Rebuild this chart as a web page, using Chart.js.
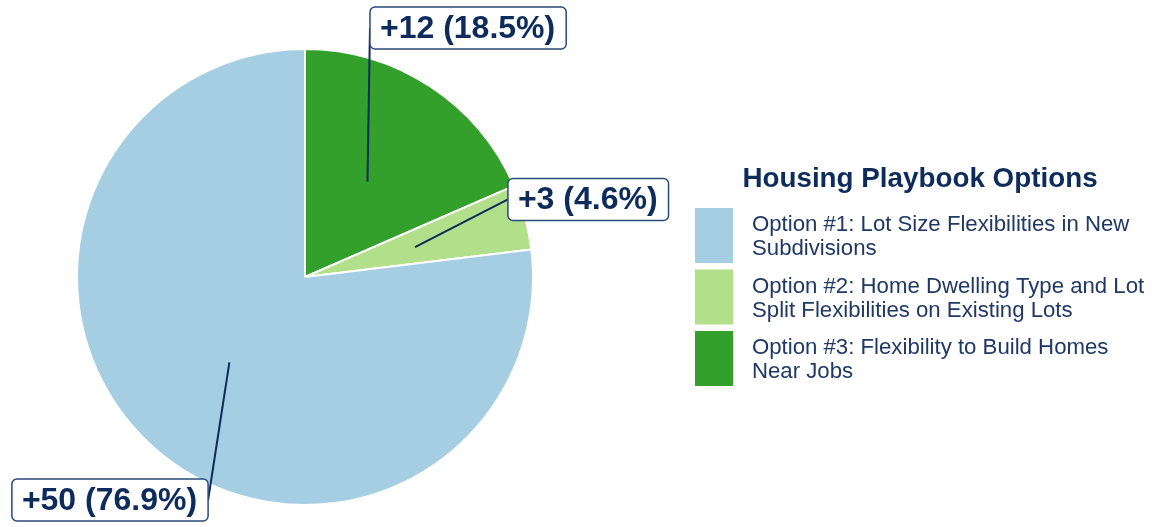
<!DOCTYPE html>
<html>
<head>
<meta charset="utf-8">
<script src="https://cdn.jsdelivr.net/npm/chart.js@4.4.0/dist/chart.umd.min.js"></script>
<style>
  html, body { margin: 0; padding: 0; background: #fff; }
  #wrap { width: 1162px; height: 527px; }
</style>
</head>
<body>
<div id="wrap"><canvas id="pie" width="1162" height="527"></canvas></div>
<script>
// data (drawing order clockwise from 12 o'clock: #3, #2, #1)
const categories = [
  ['Option #3: Flexibility to Build Homes', 'Near Jobs'],
  ['Option #2: Home Dwelling Type and Lot', 'Split Flexibilities on Existing Lots'],
  ['Option #1: Lot Size Flexibilities in New', 'Subdivisions']
];
const homesAdded = [12, 3, 50];
const sliceColors = ['#33a02c', '#b2df8a', '#a6cee3'];
const legendTitle = 'Housing Playbook Options';

// where each callout box sits, in units of the pie radius from the centre
const calloutPos = [
  { dx: 0.285, dy: -1.092, align: 'left' },
  { dx: 0.89, dy: -0.34, align: 'left' },
  { dx: -0.425, dy: 0.978, align: 'right' }
];

const NAVY = '#0d2b5b';
const FONT = '"Liberation Sans", Arial, sans-serif';

const total = homesAdded.reduce((a, b) => a + b, 0);

const calloutPlugin = {
  id: 'callouts',
  afterDatasetsDraw(chart) {
    const ctx = chart.ctx;
    const arcs = chart.getDatasetMeta(0).data;
    ctx.save();
    ctx.font = 'bold 32px ' + FONT;
    arcs.forEach((arc, i) => {
      const p = arc.getProps(['x', 'y', 'startAngle', 'endAngle', 'outerRadius'], true);
      const mid = (p.startAngle + p.endAngle) / 2;
      const ax = p.x + Math.cos(mid) * p.outerRadius * 0.5;
      const ay = p.y + Math.sin(mid) * p.outerRadius * 0.5;
      const pos = calloutPos[i];
      const ex = p.x + pos.dx * p.outerRadius;
      const ey = p.y + pos.dy * p.outerRadius;

      const val = homesAdded[i];
      const txt = '+' + val + ' (' + (val / total * 100).toFixed(1) + '%)';
      const w = ctx.measureText(txt).width + 21;
      const h = 42;
      const bx = pos.align === 'left' ? ex : ex - w;
      const by = ey - h / 2;

      // leader line
      ctx.strokeStyle = NAVY;
      ctx.lineWidth = 2;
      ctx.beginPath();
      ctx.moveTo(ax, ay);
      ctx.lineTo(ex, ey);
      ctx.stroke();

      // box
      ctx.fillStyle = '#ffffff';
      ctx.strokeStyle = '#2a4a78';
      ctx.lineWidth = 1.5;
      ctx.beginPath();
      ctx.roundRect(bx, by, w, h, 5);
      ctx.fill();
      ctx.stroke();

      ctx.fillStyle = NAVY;
      ctx.textAlign = 'left';
      ctx.textBaseline = 'middle';
      ctx.fillText(txt, bx + 10, by + h / 2 + 1);
    });
    ctx.restore();
  }
};

const legendPlugin = {
  id: 'sideLegend',
  afterDraw(chart) {
    const ctx = chart.ctx;
    const x0 = 695, top = 208, pitch = 61.5;
    ctx.save();
    ctx.fillStyle = NAVY;
    ctx.font = 'bold 27.8px ' + FONT;
    ctx.textAlign = 'center';
    ctx.textBaseline = 'middle';
    ctx.fillText(legendTitle, 920, 179);

    // legend listed #1, #2, #3 -> reverse of drawing order
    const order = [2, 1, 0];
    ctx.font = '22.2px ' + FONT;
    ctx.textAlign = 'left';
    order.forEach((idx, row) => {
      const y = top + row * pitch;
      ctx.fillStyle = sliceColors[idx];
      ctx.fillRect(x0, y, 38, 55);
      ctx.fillStyle = '#1f3864';
      categories[idx].forEach((line, k) => {
        ctx.fillText(line, 752, y + 17 + k * 24);
      });
    });
    ctx.restore();
  }
};

new Chart(document.getElementById('pie'), {
  type: 'pie',
  data: {
    labels: categories,
    datasets: [{
      data: homesAdded,
      backgroundColor: sliceColors,
      borderColor: '#ffffff',
      borderWidth: 2,
      hoverOffset: 0
    }]
  },
  options: {
    responsive: false,
    animation: false,
    radius: 228,
    layout: { padding: { left: 65, right: 617, top: 37, bottom: 10 } },
    plugins: {
      legend: { display: false },
      tooltip: { enabled: false }
    }
  },
  plugins: [calloutPlugin, legendPlugin]
});
</script>
</body>
</html>
